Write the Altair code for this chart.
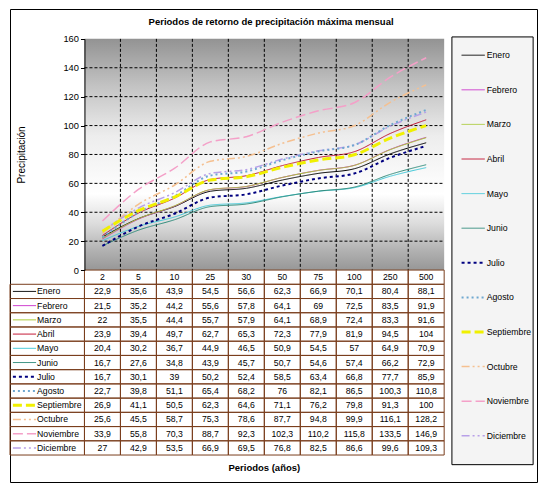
import altair as alt
import pandas as pd

# ---------------- data ----------------
PERIODS = ["2", "5", "10", "25", "30", "50", "75", "100", "250", "500"]
SERIES = ["Enero", "Febrero", "Marzo", "Abril", "Mayo", "Junio", "Julio",
          "Agosto", "Septiembre", "Octubre", "Noviembre", "Diciembre"]

ENERO = [22.9, 35.6, 43.9, 54.5, 56.6, 62.3, 66.9, 70.1, 80.4, 88.1]
FEBRERO = [21.5, 35.2, 44.2, 55.6, 57.8, 64.1, 69, 72.5, 83.5, 91.9]
MARZO = [22, 35.5, 44.4, 55.7, 57.9, 64.1, 68.9, 72.4, 83.3, 91.6]
ABRIL = [23.9, 39.4, 49.7, 62.7, 65.3, 72.3, 77.9, 81.9, 94.5, 104]
MAYO = [20.4, 30.2, 36.7, 44.9, 46.5, 50.9, 54.5, 57, 64.9, 70.9]
JUNIO = [16.7, 27.6, 34.8, 43.9, 45.7, 50.7, 54.6, 57.4, 66.2, 72.9]
JULIO = [16.7, 30.1, 39, 50.2, 52.4, 58.5, 63.4, 66.8, 77.7, 85.9]
AGOSTO = [22.7, 39.8, 51.1, 65.4, 68.2, 76, 82.1, 86.5, 100.3, 110.8]
SEPTIEMBRE = [26.9, 41.1, 50.5, 62.3, 64.6, 71.1, 76.2, 79.8, 91.3, 100]
OCTUBRE = [25.6, 45.5, 58.7, 75.3, 78.6, 87.7, 94.8, 99.9, 116.1, 128.2]
NOVIEMBRE = [33.9, 55.8, 70.3, 88.7, 92.3, 102.3, 110.2, 115.8, 133.5, 146.9]
DICIEMBRE = [27, 42.9, 53.5, 66.9, 69.5, 76.8, 82.5, 86.6, 99.6, 109.3]
VALUES = [ENERO, FEBRERO, MARZO, ABRIL, MAYO, JUNIO, JULIO, AGOSTO,
          SEPTIEMBRE, OCTUBRE, NOVIEMBRE, DICIEMBRE]

Y_TICKS = [0, 20, 40, 60, 80, 100, 120, 140, 160]
GRID_TICKS = [20, 40, 60, 80, 100, 120, 140]

TITLE = "Periodos de retorno de precipitación máxima mensual"
Y_TITLE = "Precipitación"
X_TITLE = "Periodos (años)"
HDR = "_hdr"

# ---------------- styles ----------------
COLORS = ["#000000", "#CC33CC", "#A8C832", "#C0102E", "#40C8D8", "#2E8B7A",
          "#000080", "#6FA8D0", "#F0F000", "#F5C090", "#F4A0C8", "#B8A0E8"]
DASHES = [[1, 0], [1, 0], [1, 0], [1, 0], [1, 0], [1, 0],
          [3, 3], [2, 3], [9, 4], [8, 3, 2, 3, 2, 3], [10, 4], [8, 3, 2, 3, 2, 3]]
WIDTHS = [1, 1, 1, 1, 1, 1, 2, 2, 3, 1.5, 1.5, 1.5]
BROWN = "#7A3E1D"
FONT = "Liberation Sans"

# ---------------- layout ----------------
W, H = 527, 473
SX, SY = W / 545, H / 491


def px(v):
    return v * SX


def py(v):
    return v * SY


L, R, T, B = px(77), px(449), py(31), py(271)
TB = py(463)

# ---------------- frames ----------------
long = pd.DataFrame([
    {"series": s, "row": s, "period": p, "value": v}
    for s, vals in zip(SERIES, VALUES) for p, v in zip(PERIODS, vals)
])
long["label"] = long["value"].map(lambda v: f"{v:g}".replace(".", ","))
hdr = pd.DataFrame({"row": HDR, "period": PERIODS, "label": PERIODS})
table_text = pd.concat([long[["row", "period", "label"]], hdr], ignore_index=True)
cells = pd.DataFrame([{"row": r, "period": p} for r in [HDR] + SERIES for p in PERIODS])
names = pd.DataFrame({"series": SERIES, "row": SERIES})
one = pd.DataFrame({"t": [0]})

# ---------------- scales ----------------
def xs():
    return alt.Scale(type="band", domain=PERIODS, range=[L, R], paddingInner=0, paddingOuter=0)


def ys_plot():
    return alt.Scale(domain=[0, 160], range=[B, T], nice=False)


def ys_table():
    return alt.Scale(type="band", domain=[HDR] + SERIES, range=[B, TB], paddingInner=0, paddingOuter=0)


def ys_leg():
    return alt.Scale(type="band", domain=SERIES, range=[py(30), py(461)], paddingInner=0, paddingOuter=0)


color = alt.Color("series:N", scale=alt.Scale(domain=SERIES, range=COLORS), legend=None)
dash = alt.StrokeDash("series:N", scale=alt.Scale(domain=SERIES, range=DASHES), legend=None)


def width_groups():
    out = []
    for w in sorted(set(WIDTHS)):
        out.append((w, [s for s, ww in zip(SERIES, WIDTHS) if ww == w]))
    return out


# ---------------- plot area ----------------
grad = alt.LinearGradient(
    gradient="linear", x1=0, x2=0, y1=0, y2=1,
    stops=[
        alt.GradientStop(offset=0, color="#939393"),
        alt.GradientStop(offset=0.2, color="#c2c2c2"),
        alt.GradientStop(offset=0.42, color="#ededed"),
        alt.GradientStop(offset=0.67, color="#ffffff"),
        alt.GradientStop(offset=0.8, color="#dcdcdc"),
        alt.GradientStop(offset=0.92, color="#b0b0b0"),
        alt.GradientStop(offset=1, color="#979797"),
    ],
)
bg = alt.Chart(one).mark_rect(fill=grad).encode(
    x=alt.value(L), x2=alt.value(R), y=alt.value(T), y2=alt.value(B)
)
hgrid = alt.Chart(pd.DataFrame({"tick": GRID_TICKS})).mark_rule(
    color="black", strokeDash=[3, 2], strokeWidth=1
).encode(
    y=alt.Y("tick:Q", scale=ys_plot(), axis=None),
    x=alt.value(L), x2=alt.value(R),
)
vgrid = alt.Chart(pd.DataFrame({"period": PERIODS[1:]})).mark_rule(
    color="black", strokeDash=[3, 2], strokeWidth=1
).encode(
    x=alt.X("period:N", scale=xs(), axis=None, bandPosition=0),
    y=alt.value(T), y2=alt.value(B),
)

yaxis = alt.Axis(
    orient="left", values=Y_TICKS, grid=False, offset=-L, zindex=1,
    domainColor="black", tickColor="black", tickSize=4,
    labelFont=FONT, labelFontSize=9.3, labelColor="black", labelPadding=2,
    title=Y_TITLE, titleFont=FONT, titleFontSize=10, titleFontWeight="normal",
    titleColor="black", titleX=px(12) - L, titleBaseline="middle",
)

line_layers = []
for i, (w, members) in enumerate(width_groups()):
    line_layers.append(
        alt.Chart(long).mark_line(strokeWidth=w, interpolate="monotone").encode(
            x=alt.X("period:N", scale=xs(), axis=None, bandPosition=0.5, sort=PERIODS),
            y=alt.Y("value:Q", scale=ys_plot(), axis=yaxis if i == 0 else None),
            color=color, strokeDash=dash,
        ).transform_filter(alt.FieldOneOfPredicate(field="series", oneOf=members))
    )

# ---------------- data table ----------------
cell_rects = alt.Chart(cells).mark_rect(filled=False, color=BROWN, strokeWidth=1).encode(
    x=alt.X("period:N", scale=xs(), axis=None),
    y=alt.Y("row:N", scale=ys_table(), axis=None),
)
name_rects = alt.Chart(names).mark_rect(filled=False, color=BROWN, strokeWidth=1).encode(
    x=alt.value(0), x2=alt.value(L),
    y=alt.Y("row:N", scale=ys_table(), axis=None),
)
cell_text = alt.Chart(table_text).mark_text(
    font=FONT, fontSize=8.7, color="black", align="center", baseline="middle"
).encode(
    x=alt.X("period:N", scale=xs(), axis=None, bandPosition=0.5),
    y=alt.Y("row:N", scale=ys_table(), axis=None, bandPosition=0.5),
    text="label:N",
)
name_text = alt.Chart(names).mark_text(
    font=FONT, fontSize=8.7, color="black", align="left", baseline="middle"
).encode(
    x=alt.value(px(28)),
    y=alt.Y("row:N", scale=ys_table(), axis=None, bandPosition=0.5),
    text="series:N",
)
name_samples = []
for w, members in width_groups():
    name_samples.append(
        alt.Chart(names).mark_rule(strokeWidth=w).encode(
            x=alt.value(px(3)), x2=alt.value(px(27)),
            y=alt.Y("row:N", scale=ys_table(), axis=None, bandPosition=0.5),
            color=color, strokeDash=dash,
        ).transform_filter(alt.FieldOneOfPredicate(field="series", oneOf=members))
    )

# ---------------- legend ----------------
leg_box = alt.Chart(one).mark_rect(fill="#f4f4f4", stroke="black", strokeWidth=1).encode(
    x=alt.value(px(457)), x2=alt.value(px(541)), y=alt.value(py(29)), y2=alt.value(py(473))
)
leg_samples = []
for w, members in width_groups():
    leg_samples.append(
        alt.Chart(names).mark_rule(strokeWidth=w).encode(
            x=alt.value(px(467)), x2=alt.value(px(491)),
            y=alt.Y("series:N", scale=ys_leg(), axis=None, bandPosition=0.5),
            color=color, strokeDash=dash,
        ).transform_filter(alt.FieldOneOfPredicate(field="series", oneOf=members))
    )
leg_text = alt.Chart(names).mark_text(
    font=FONT, fontSize=8.7, color="black", align="left", baseline="middle"
).encode(
    x=alt.value(px(493)),
    y=alt.Y("series:N", scale=ys_leg(), axis=None, bandPosition=0.5),
    text="series:N",
)

# ---------------- titles ----------------
title_mark = alt.Chart(pd.DataFrame({"t": [TITLE]})).mark_text(
    font=FONT, fontSize=9.5, fontWeight="bold", color="black", align="center", baseline="middle"
).encode(x=alt.value(px(270)), y=alt.value(py(14)), text="t:N")
xtitle_mark = alt.Chart(pd.DataFrame({"t": [X_TITLE]})).mark_text(
    font=FONT, fontSize=9.5, fontWeight="bold", color="black", align="center", baseline="middle"
).encode(x=alt.value(px(263)), y=alt.value(py(476)), text="t:N")

chart = (
    alt.layer(
        bg, hgrid, vgrid, *line_layers,
        cell_rects, name_rects, cell_text, name_text, *name_samples,
        leg_box, *leg_samples, leg_text,
        title_mark, xtitle_mark,
    )
    .resolve_scale(y="independent")
    .properties(width=W, height=H, padding=1)
    .configure(font=FONT)
    .configure_view(stroke="black", strokeWidth=1)
)

chart.save("out.html", embed_options={"renderer": "svg", "actions": False})
